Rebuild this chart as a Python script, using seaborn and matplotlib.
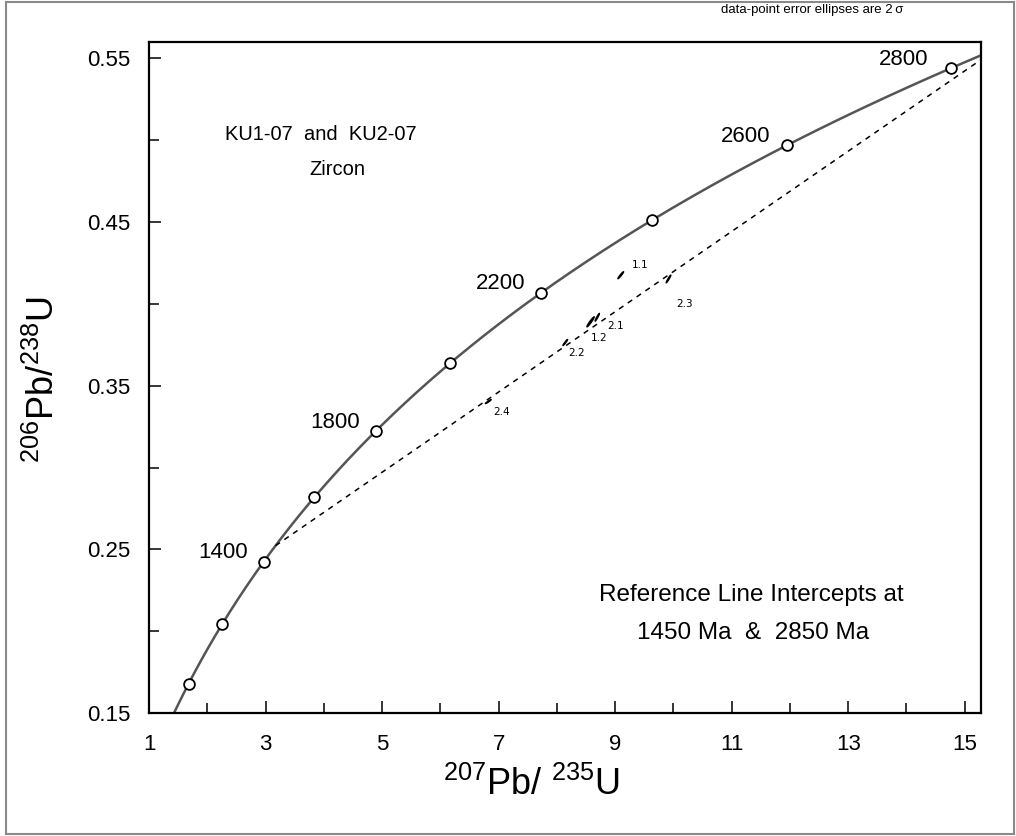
import numpy as np
import pandas as pd
import matplotlib
matplotlib.use("Agg")
import matplotlib.pyplot as plt
import seaborn as sns
from matplotlib.patches import Rectangle

# ---------------- data ----------------
LAMBDA_238 = 1.55125e-10
LAMBDA_235 = 9.8485e-10

marker_ages_ma = [1000, 1200, 1400, 1600, 1800, 2000, 2200, 2400, 2600, 2800]
labeled_ages_ma = [1400, 1800, 2200, 2600, 2800]
intercepts_ma = [1450, 2850]

spot_names = ["1.1", "2.3", "2.1", "1.2", "2.2", "2.4"]
spot_x = [9.096, 9.916, 8.693, 8.578, 8.144, 6.823]       # 207Pb/235U
spot_y = [0.4175, 0.4152, 0.3918, 0.3890, 0.3764, 0.3403]  # 206Pb/238U
spot_sx = [0.049, 0.040, 0.037, 0.063, 0.040, 0.049]       # 2 sigma
spot_sy = [0.00214, 0.00236, 0.00236, 0.00306, 0.00184, 0.00122]
spot_rho = [0.96, 0.96, 0.96, 0.96, 0.96, 0.96]
label_x = [9.43, 10.185, 9.00, 8.727, 8.333, 7.046]
label_y = [0.4235, 0.4000, 0.3862, 0.3794, 0.3697, 0.3342]

x_major = [1, 3, 5, 7, 9, 11, 13, 15]
x_minor = [2, 4, 6, 8, 10, 12, 14]
y_major = [0.15, 0.25, 0.35, 0.45, 0.55]
y_minor = [0.20, 0.30, 0.40, 0.50]


def concordia(t_ma):
    t = np.asarray(t_ma, dtype=float) * 1e6
    return np.exp(LAMBDA_235 * t) - 1, np.exp(LAMBDA_238 * t) - 1


# ---------------- style ----------------
sns.set_theme(style="ticks")
plt.rcParams["font.family"] = ["Liberation Sans", "DejaVu Sans"]
plt.rcParams["mathtext.fontset"] = "custom"
plt.rcParams["mathtext.rm"] = "Liberation Sans"
plt.rcParams["mathtext.it"] = "Liberation Sans:italic"
plt.rcParams["mathtext.default"] = "regular"
plt.rcParams["text.color"] = "black"
plt.rcParams["axes.labelcolor"] = "black"
plt.rcParams["xtick.color"] = "black"
plt.rcParams["ytick.color"] = "black"
plt.rcParams["xtick.direction"] = "in"
plt.rcParams["ytick.direction"] = "in"

fig = plt.figure(figsize=(10.16, 8.36), dpi=100)
ax = fig.add_axes([0.1467, 0.1471, 0.8189, 0.8027])

# concordia curve
t_curve = np.linspace(800, 3000, 600)
cx, cy = concordia(t_curve)
curve_df = pd.DataFrame({"x": cx, "y": cy})
sns.lineplot(data=curve_df, x="x", y="y", sort=False, color="#555555",
             lw=1.8, ax=ax, zorder=2)

# discordia reference line
ix, iy = concordia(intercepts_ma)
ref_df = pd.DataFrame({"x": ix, "y": iy})
sns.lineplot(data=ref_df, x="x", y="y", sort=False, color="black", lw=1.1,
             ax=ax, zorder=2)
ax.lines[-1].set_linestyle((0, (3.5, 3.5)))

# age markers
mx, my = concordia(marker_ages_ma)
mk_df = pd.DataFrame({"x": mx, "y": my})
sns.scatterplot(data=mk_df, x="x", y="y", s=60, facecolor="white",
                edgecolor="black", linewidth=1.3, ax=ax, zorder=4)

# age labels
lx, ly = concordia(labeled_ages_ma)
for age, xx, yy in zip(labeled_ages_ma, lx, ly):
    dx = -22 if age == 2800 else -16
    ax.annotate(str(age), (xx, yy), xytext=(dx, 9), textcoords="offset pixels",
                ha="right", va="center", fontsize=16)

# error ellipses
tt = np.linspace(0, 2 * np.pi, 100)
for name, x0, y0, sx, sy, r, tx, ty in zip(spot_names, spot_x, spot_y, spot_sx,
                                           spot_sy, spot_rho, label_x, label_y):
    ex = x0 + sx * np.cos(tt)
    ey = y0 + sy * (r * np.cos(tt) + np.sqrt(1 - r ** 2) * np.sin(tt))
    ax.fill(ex, ey, facecolor="black", edgecolor="black", lw=1.0, zorder=3)
    ax.text(tx, ty, name, fontsize=7.5, ha="center", va="center",
            family=["DejaVu Sans"])

# axes formatting
ax.set_xlim(1, 15.28)
ax.set_ylim(0.15, 0.560)
ax.set_xticks(x_major)
ax.set_xticks(x_minor, minor=True)
ax.set_yticks(y_major)
ax.set_yticks(y_minor, minor=True)
ax.set_xticklabels([str(v) for v in x_major])
ax.set_yticklabels([f"{v:.2f}" for v in y_major])
ax.xaxis.set_tick_params(which="both", direction="in")
ax.yaxis.set_tick_params(which="both", direction="in")
ax.tick_params(which="major", length=8.5, width=1.1, labelsize=16)
ax.tick_params(axis="x", which="major", pad=15)
ax.tick_params(axis="y", which="major", pad=13.5)
ax.tick_params(which="minor", length=7, width=1.1)
for sp in ax.spines.values():
    sp.set_visible(True)
    sp.set_linewidth(1.6)
    sp.set_color("black")

ax.set_xlabel(r"$^{207}$Pb/ $^{235}$U", fontsize=26)
ax.set_ylabel(r"$^{206}$Pb/$^{238}$U", fontsize=26)
ax.xaxis.label.set_va("center")
ax.yaxis.label.set_va("center")
ax.xaxis.set_label_coords(0.459, -0.107)
ax.yaxis.set_label_coords(-0.126, 0.496)

# annotations
ax.text(0.206, 0.8616, "KU1-07  and  KU2-07", transform=ax.transAxes,
        ha="center", va="center", fontsize=14.5)
ax.text(0.226, 0.810, "Zircon", transform=ax.transAxes,
        ha="center", va="center", fontsize=14.5)
ax.text(0.724, 0.176, "Reference Line Intercepts at", transform=ax.transAxes,
        ha="center", va="center", fontsize=17.5)
ax.text(0.726, 0.119, "1450 Ma  &  2850 Ma", transform=ax.transAxes,
        ha="center", va="center", fontsize=17.5)
fig.text(903 / 1016, 1 - 10 / 836, "data-point error ellipses are 2\u2009\u03c3",
         ha="right", va="center", fontsize=9.5)

# outer frame
fig.patches.append(Rectangle((0.006, 0.002), 0.992, 0.996, transform=fig.transFigure,
                             fill=False, edgecolor="#8a8a8a", lw=1.5))

fig.savefig("out.png", dpi=100)
